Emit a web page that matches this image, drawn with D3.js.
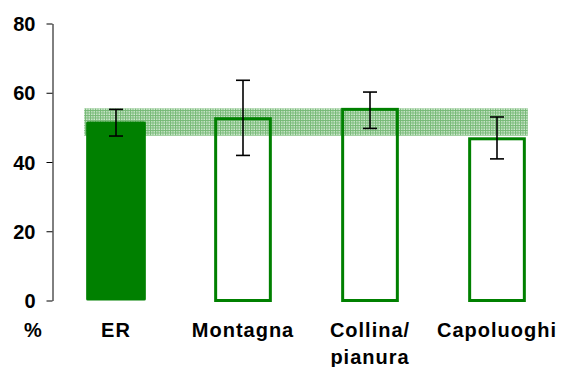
<!DOCTYPE html>
<html>
<head>
<meta charset="utf-8">
<script src="https://cdn.jsdelivr.net/npm/d3@7"></script>
<style>
  html, body { margin: 0; padding: 0; background: #fff; }
  svg { display: block; }
  text { font-family: Arial, "Liberation Sans", sans-serif; font-weight: bold; fill: #000; }
</style>
</head>
<body>
<svg id="chart" width="565" height="367"></svg>
<script>
const categories = ["ER", "Montagna", "Collina/\npianura", "Capoluoghi"];
const values = [51.7, 52.5, 55.2, 46.7];
const lower = [47.5, 41.9, 49.7, 40.9];
const upper = [55.2, 63.6, 60.2, 53.0];
const bandRange = [47.6, 55.5];
const yTicks = [0, 20, 40, 60, 80];

const svg = d3.select("#chart");
const green = "#008000";

const x = d3.scaleBand().domain(categories).range([52.5, 560.5])
  .paddingInner(0.53).paddingOuter(0.265);
const y = d3.scaleLinear().domain([0, 80]).range([300.5, 23.5]);
const bw = x.bandwidth();

// pattern for reference band
const defs = svg.append("defs");
const pat = defs.append("pattern").attr("id", "grid")
  .attr("width", 2.5).attr("height", 2.5).attr("patternUnits", "userSpaceOnUse");
pat.append("rect").attr("width", 2.5).attr("height", 2.5).attr("fill", "#d6ecd6");
pat.append("rect").attr("width", 2.5).attr("height", 1).attr("fill", "#74b874");
pat.append("rect").attr("width", 1).attr("height", 2.5).attr("fill", "#74b874");

// band
svg.append("rect")
  .attr("x", x(categories[0]) - 2)
  .attr("width", x(categories[3]) + bw + 1 - (x(categories[0]) - 2))
  .attr("y", y(bandRange[1]))
  .attr("height", y(bandRange[0]) - y(bandRange[1]))
  .attr("fill", "url(#grid)");

// bars
categories.forEach((c, i) => {
  if (i === 0) {
    svg.append("rect")
      .attr("x", x(c)).attr("width", bw)
      .attr("y", y(values[i])).attr("height", y(0) - y(values[i]))
      .attr("rx", 1.5)
      .attr("fill", green);
  } else {
    svg.append("rect")
      .attr("x", x(c) + 2.5).attr("width", bw - 5)
      .attr("y", y(values[i])).attr("height", y(0) - y(values[i]))
      .attr("fill", "none").attr("stroke", green).attr("stroke-width", 3);
  }
});

// error bars
const eb = svg.append("g").attr("stroke", "#000").attr("stroke-width", 1.6);
categories.forEach((c, i) => {
  const cx = x(c) + bw / 2;
  eb.append("line").attr("x1", cx).attr("x2", cx).attr("y1", y(upper[i])).attr("y2", y(lower[i]));
  eb.append("line").attr("x1", cx - 7).attr("x2", cx + 7).attr("y1", y(upper[i])).attr("y2", y(upper[i]));
  eb.append("line").attr("x1", cx - 7).attr("x2", cx + 7).attr("y1", y(lower[i])).attr("y2", y(lower[i]));
});

// y axis
const yAxis = d3.axisLeft(y).tickValues(yTicks).tickSize(6).tickPadding(11).tickSizeOuter(0);
const ga = svg.append("g").attr("transform", "translate(52.5,0)").call(yAxis);
ga.select(".domain").attr("stroke", "#000");
ga.selectAll(".tick line").attr("stroke", "#000");
ga.selectAll(".tick text")
  .attr("font-size", 20).attr("font-family", "Arial, 'Liberation Sans', sans-serif")
  .attr("font-weight", "bold").attr("fill", "#000").attr("dy", "0.35em");

// x labels
categories.forEach((c) => {
  const lines = c.split("\n");
  const t = svg.append("text")
    .attr("x", x(c) + bw / 2).attr("y", 337)
    .attr("text-anchor", "middle").attr("font-size", 20)
    .attr("letter-spacing", 1);
  lines.forEach((l, j) => {
    t.append("tspan").attr("x", x(c) + bw / 2).attr("dy", j === 0 ? 0 : 27).text(l);
  });
});

svg.append("text").attr("x", 33).attr("y", 337)
  .attr("text-anchor", "middle").attr("font-size", 20).text("%");
</script>
</body>
</html>
